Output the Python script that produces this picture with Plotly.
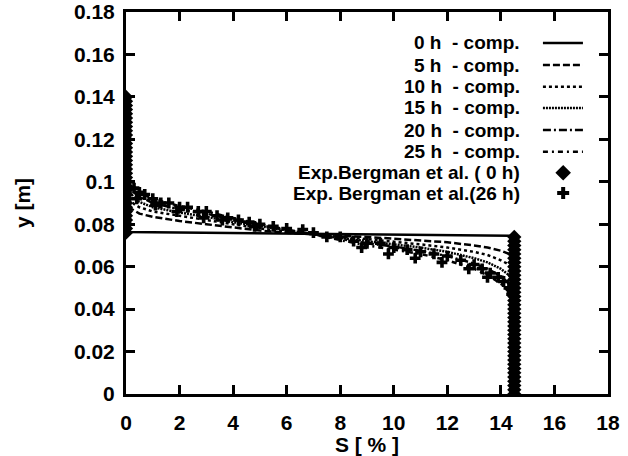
import plotly.graph_objects as go

# ---------------- data ----------------
x_comp = [0, 0, 0.1, 0.3, 0.5, 1, 2, 3, 4, 5, 6, 7, 8, 9, 10, 11, 12, 13, 13.5, 14, 14.3, 14.5, 14.5]
y_5h  = [0.140, 0.090, 0.088, 0.0865, 0.085, 0.0835, 0.0815, 0.080, 0.0785, 0.077, 0.076, 0.0752, 0.0745, 0.074, 0.0732, 0.0725, 0.0715, 0.070, 0.069, 0.0675, 0.066, 0.064, 0.0]
y_10h = [0.140, 0.095, 0.092, 0.0895, 0.088, 0.086, 0.084, 0.082, 0.080, 0.078, 0.0765, 0.0752, 0.074, 0.073, 0.0718, 0.0705, 0.069, 0.067, 0.0655, 0.063, 0.061, 0.058, 0.0]
y_15h = [0.140, 0.100, 0.096, 0.0925, 0.0905, 0.088, 0.0855, 0.0835, 0.081, 0.079, 0.077, 0.0752, 0.0735, 0.072, 0.0705, 0.069, 0.067, 0.064, 0.062, 0.059, 0.056, 0.052, 0.0]
y_20h = [0.140, 0.104, 0.099, 0.095, 0.093, 0.090, 0.087, 0.085, 0.082, 0.0795, 0.0772, 0.0752, 0.073, 0.071, 0.0695, 0.0675, 0.065, 0.0615, 0.059, 0.0555, 0.052, 0.047, 0.0]
y_25h = [0.140, 0.108, 0.102, 0.0975, 0.095, 0.092, 0.0885, 0.086, 0.083, 0.080, 0.0775, 0.0752, 0.0725, 0.070, 0.068, 0.066, 0.063, 0.059, 0.056, 0.052, 0.048, 0.042, 0.0]

x_0h = [0, 0, 14.5, 14.5]
y_0h = [0.140, 0.0763, 0.0745, 0.0]

# Experimental Bergman et al. (0 h): diamonds
exp0_x = [0]*33 + [14.5]*38
exp0_y = [0.076, 0.078, 0.080, 0.082, 0.084, 0.086, 0.088, 0.090, 0.092, 0.094, 0.096,
          0.098, 0.100, 0.102, 0.104, 0.106, 0.108, 0.110, 0.112, 0.114, 0.116, 0.118,
          0.120, 0.122, 0.124, 0.126, 0.128, 0.130, 0.132, 0.134, 0.136, 0.138, 0.140,
          0.000, 0.002, 0.004, 0.006, 0.008, 0.010, 0.012, 0.014, 0.016, 0.018, 0.020,
          0.022, 0.024, 0.026, 0.028, 0.030, 0.032, 0.034, 0.036, 0.038, 0.040, 0.042,
          0.044, 0.046, 0.048, 0.050, 0.052, 0.054, 0.056, 0.058, 0.060, 0.062, 0.064,
          0.066, 0.068, 0.070, 0.072, 0.074]

# Experimental Bergman et al. (26 h): plus markers
exp26_x = [0.1, 0.3, 0.5, 0.7, 1.0, 1.3, 1.6, 2.0, 2.3, 2.7, 3.0, 3.4, 3.8, 4.2, 4.6, 5.0,
           5.5, 6.0, 6.6, 7.0, 7.5, 8.0, 8.5, 9.0, 9.5, 10.0, 10.5, 11.0, 11.5, 12.0, 12.5,
           13.0, 13.3, 13.6, 13.9, 14.1, 14.3, 14.4,
           0.4, 1.1, 1.9, 2.9, 3.6, 4.8, 8.8, 9.8, 10.8, 11.8, 12.8, 13.5]
exp26_y = [0.100, 0.097, 0.095, 0.094, 0.092, 0.090, 0.090, 0.088, 0.088, 0.086, 0.086,
           0.084, 0.083, 0.082, 0.081, 0.080, 0.079, 0.078, 0.0775, 0.076, 0.074, 0.074,
           0.072, 0.071, 0.071, 0.069, 0.068, 0.067, 0.066, 0.065, 0.063, 0.061, 0.059,
           0.057, 0.055, 0.053, 0.050, 0.047,
           0.092, 0.089, 0.086, 0.083, 0.082, 0.079, 0.069, 0.066, 0.064, 0.062, 0.059, 0.055]

labels = ["0 h  - comp.", "5 h  - comp.", "10 h  - comp.", "15 h  - comp.",
          "20 h  - comp.", "25 h  - comp.", "Exp.Bergman et al. ( 0 h)", "Exp. Bergman et al.(26 h)"]

x_ticks = [0, 2, 4, 6, 8, 10, 12, 14, 16, 18]
y_ticks = [0, 0.02, 0.04, 0.06, 0.08, 0.1, 0.12, 0.14, 0.16, 0.18]
y_tick_text = ["0", "0.02", "0.04", "0.06", "0.08", "0.1", "0.12", "0.14", "0.16", "0.18"]

# ---------------- figure ----------------
FONT = "Liberation Sans"
BLACK = "black"
dashes = ["solid", "7px,3px", "3px,3px", "2px,1px", "8px,3px,2px,3px", "5px,4px,2px,4px"]
comp_series = [(x_0h, y_0h), (x_comp, y_5h), (x_comp, y_10h), (x_comp, y_15h), (x_comp, y_20h), (x_comp, y_25h)]

fig = go.Figure()
for (xs, ys), d in zip(comp_series, dashes):
    fig.add_trace(go.Scatter(x=xs, y=ys, mode="lines", line=dict(color=BLACK, width=2.5, dash=d),
                             showlegend=False, hoverinfo="skip"))

fig.add_trace(go.Scatter(x=exp26_x, y=exp26_y, mode="markers",
                         marker=dict(symbol="cross", size=9, color=BLACK), showlegend=False))
fig.add_trace(go.Scatter(x=exp0_x, y=exp0_y, mode="markers",
                         marker=dict(symbol="diamond", size=11, color=BLACK), showlegend=False))

# legend keys on an auxiliary [0,1] axis
key_x = [0.865, 0.948]
key_rows = [0.919, 0.861, 0.804, 0.749, 0.691, 0.634, 0.579, 0.526]
for i, d in enumerate(dashes):
    fig.add_trace(go.Scatter(x=key_x, y=[key_rows[i]]*2, mode="lines", xaxis="x2", yaxis="y2",
                             line=dict(color=BLACK, width=2.5, dash=d), showlegend=False))
fig.add_trace(go.Scatter(x=[0.907], y=[key_rows[6]], mode="markers", xaxis="x2", yaxis="y2",
                         marker=dict(symbol="diamond", size=12, color=BLACK), showlegend=False))
fig.add_trace(go.Scatter(x=[0.907], y=[key_rows[7]], mode="markers", xaxis="x2", yaxis="y2",
                         marker=dict(symbol="cross", size=10, color=BLACK), showlegend=False))

for lab, yr in zip(labels, key_rows):
    fig.add_annotation(x=0.820, y=yr, xref="x2", yref="y2", text=lab, showarrow=False,
                       xanchor="right", yanchor="middle", borderpad=0,
                       font=dict(family=FONT, size=19, color=BLACK, weight="bold"))

axis_common = dict(showline=True, linecolor=BLACK, linewidth=3, mirror="allticks",
                   ticks="inside", ticklen=9, tickwidth=3, tickcolor=BLACK,
                   showgrid=False, zeroline=False, automargin=False,
                   tickfont=dict(family=FONT, size=21, color=BLACK, weight="bold"))

fig.update_layout(
    width=628, height=456,
    margin=dict(l=126, r=20, t=12, b=62),
    paper_bgcolor="white", plot_bgcolor="white",
    xaxis=dict(range=[0, 18], tickvals=x_ticks, ticktext=[str(v) for v in x_ticks],
               ticklabelstandoff=8,
               title=dict(text="S [ % ]", standoff=0,
                          font=dict(family=FONT, size=21, color=BLACK, weight="bold")),
               **axis_common),
    yaxis=dict(range=[0, 0.18], tickvals=y_ticks, ticktext=y_tick_text,
               ticklabelstandoff=4,
               title=dict(text="y [m]", standoff=38,
                          font=dict(family=FONT, size=21, color=BLACK, weight="bold")),
               **axis_common),
    xaxis2=dict(range=[0, 1], overlaying="x", visible=False),
    yaxis2=dict(range=[0, 1], overlaying="y", visible=False),
    showlegend=False,
)

fig.write_html("out.html")
